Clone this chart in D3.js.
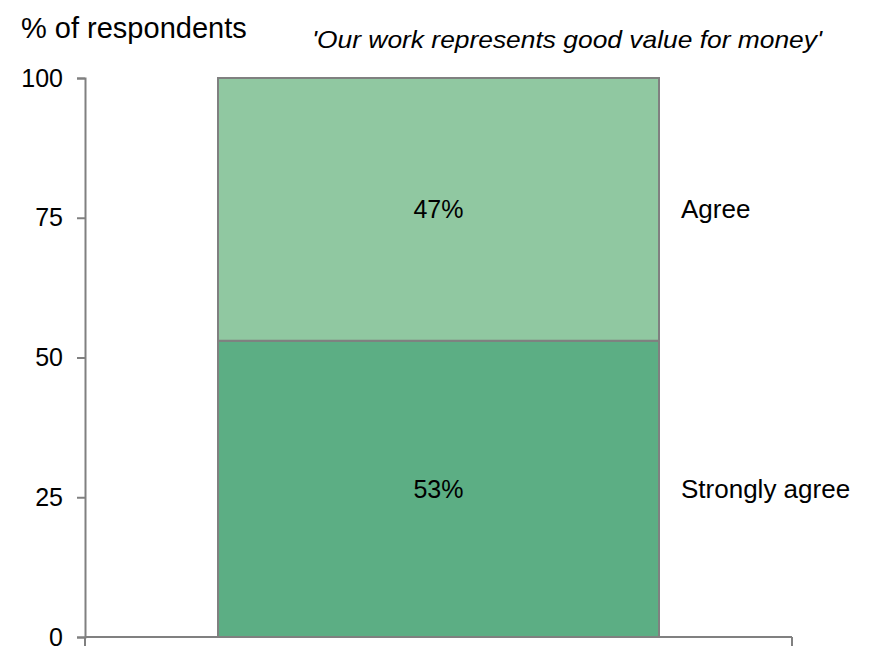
<!DOCTYPE html>
<html>
<head>
<meta charset="utf-8">
<script src="https://cdn.jsdelivr.net/npm/d3@7"></script>
<style>
  html, body { margin: 0; padding: 0; background: #fff; }
  svg text { font-family: "Liberation Sans", Arial, sans-serif; fill: #000; }
</style>
</head>
<body>
<svg id="chart" width="874" height="648"></svg>
<script>
// Survey response shares (stacked bottom to top)
const categories = ["Our work represents good value for money"];
const segments = ["Strongly agree", "Agree"];
const values = [53, 47];
const colors = ["#5cae84", "#90c8a1"];
const yTicks = [0, 25, 50, 75, 100];

const svg = d3.select("#chart");
const axisColor = "#808080";
const fontStack = "'Liberation Sans', Arial, sans-serif";

const x = d3.scaleBand().domain(categories).range([85, 792]).padding(0.2317);
const y = d3.scaleLinear().domain([0, 100]).range([637, 78]);

// stacked layout
let acc = 0;
const stack = values.map((v, i) => {
  const s = { name: segments[i], y0: acc, y1: acc + v, value: v, color: colors[i] };
  acc += v;
  return s;
});

// bars
svg.append("g").selectAll("rect").data(stack).join("rect")
  .attr("x", x(categories[0]))
  .attr("width", x.bandwidth())
  .attr("y", d => y(d.y1))
  .attr("height", d => y(d.y0) - y(d.y1))
  .attr("fill", d => d.color)
  .attr("stroke", axisColor)
  .attr("stroke-width", 2);

// y axis
const yAxis = svg.append("g")
  .attr("transform", "translate(85,0)")
  .call(d3.axisLeft(y).tickValues(yTicks).tickSize(8).tickPadding(14));
yAxis.select(".domain").attr("stroke", axisColor).attr("stroke-width", 2);
yAxis.selectAll(".tick line").attr("stroke", axisColor).attr("stroke-width", 2);
yAxis.selectAll(".tick text").attr("font-size", 25).attr("fill", "#000")
  .style("font-family", fontStack);

// x axis: baseline with boundary ticks at both ends
const xAxis = svg.append("g").attr("transform", "translate(0,637)");
xAxis.append("line").attr("x1", 85).attr("x2", 792).attr("y1", 0).attr("y2", 0)
  .attr("stroke", axisColor).attr("stroke-width", 2);
xAxis.selectAll("line.bt").data(x.range()).join("line").attr("class", "bt")
  .attr("x1", d => d).attr("x2", d => d).attr("y1", 0).attr("y2", 9)
  .attr("stroke", axisColor).attr("stroke-width", 2);

// value labels inside segments
svg.append("g").selectAll("text").data(stack).join("text")
  .attr("x", x(categories[0]) + x.bandwidth() / 2)
  .attr("y", d => y((d.y0 + d.y1) / 2))
  .attr("dy", "0.35em")
  .attr("text-anchor", "middle")
  .attr("font-size", 25)
  .text(d => d.value + "%");

// segment names to the right
svg.append("g").selectAll("text").data(stack).join("text")
  .attr("x", x(categories[0]) + x.bandwidth() + 22)
  .attr("y", d => y((d.y0 + d.y1) / 2))
  .attr("dy", "0.35em")
  .attr("font-size", 26)
  .text(d => d.name);

// titles
svg.append("text").attr("x", 21).attr("y", 38).attr("font-size", 29)
  .text("% of respondents");
svg.append("text").attr("x", 822).attr("y", 48).attr("font-size", 24)
  .attr("text-anchor", "end").attr("font-style", "italic")
  .attr("textLength", 510).attr("lengthAdjust", "spacingAndGlyphs")
  .text("'" + categories[0] + "'");
</script>
</body>
</html>
